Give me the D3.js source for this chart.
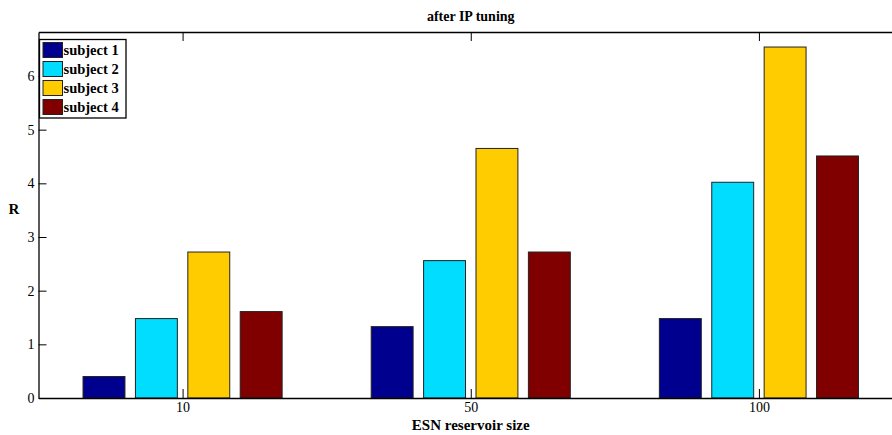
<!DOCTYPE html>
<html>
<head>
<meta charset="utf-8">
<script src="https://cdn.jsdelivr.net/npm/d3@7"></script>
<style>
  body { margin: 0; background: #fff; }
  svg { display: block; font-family: "Liberation Serif", "DejaVu Serif", serif; }
</style>
</head>
<body>
<div id="chart"></div>
<script>
// values
const sizes = ["10", "50", "100"]
const subjects = ["subject 1", "subject 2", "subject 3", "subject 4"]
const subject1 = [0.40, 1.33, 1.48]
const subject2 = [1.48, 2.56, 4.02]
const subject3 = [2.72, 4.65, 6.54]
const subject4 = [1.61, 2.72, 4.51]
const colors = ["#00008f", "#00ddff", "#ffcc00", "#800000"]
const yTicks = [0, 1, 2, 3, 4, 5, 6]

const series = [subject1, subject2, subject3, subject4]
const serif = "Liberation Serif, DejaVu Serif, serif"

let dimensions = {
    width: 892,
    height: 435,
    margin: { top: 32, right: -11, bottom: 37, left: 38.5 }
}
dimensions.boundedWidth = dimensions.width - dimensions.margin.left - dimensions.margin.right
dimensions.boundedHeight = dimensions.height - dimensions.margin.top - dimensions.margin.bottom

const svg = d3.select("#chart").append("svg")
    .attr("width", dimensions.width)
    .attr("height", dimensions.height)

const bounds = svg.append("g")
    .attr("transform", `translate(${dimensions.margin.left},${dimensions.margin.top})`)

// x in group-index units like matlab's bar(): groups at 1..3, limits 0.5..3.5
const xScale = d3.scaleLinear()
    .domain([0.5, sizes.length + 0.5])
    .range([0, dimensions.boundedWidth])
const yScale = d3.scaleLinear()
    .domain([0, 6.82])
    .range([dimensions.boundedHeight, 0])

const nSeries = series.length
const groupWidth = Math.min(0.8, nSeries / (nSeries + 1.5))
const step = groupWidth / nSeries
const barWidth = step * 0.8

// bars
series.forEach((values, s) => {
    bounds.selectAll(`.bar-${s}`)
        .data(values)
        .enter().append("rect")
        .attr("class", `bar-${s}`)
        .attr("x", (d, i) => xScale(i + 1 + (s - (nSeries - 1) / 2) * step - barWidth / 2))
        .attr("width", (d, i) => xScale(barWidth) - xScale(0))
        .attr("y", d => yScale(d))
        .attr("height", d => yScale(0) - yScale(d))
        .attr("fill", colors[s])
        .attr("stroke", "#222")
        .attr("stroke-width", 1)
})

// axes (matlab style: ticks inward, mirrored on top)
const xAxis = d3.axisBottom(xScale)
    .tickValues(sizes.map((d, i) => i + 1))
    .tickFormat((d, i) => sizes[i])
    .tickSizeInner(-9)
    .tickSizeOuter(0)
    .tickPadding(4)
const xAxisGroup = bounds.append("g")
    .attr("transform", `translate(0,${dimensions.boundedHeight})`)
    .call(xAxis)

const xTop = d3.axisTop(xScale)
    .tickValues(sizes.map((d, i) => i + 1))
    .tickFormat("")
    .tickSizeInner(-9)
    .tickSizeOuter(0)
bounds.append("g").call(xTop)

const yAxis = d3.axisLeft(yScale)
    .tickValues(yTicks)
    .tickFormat(d3.format("d"))
    .tickSizeInner(-8)
    .tickSizeOuter(0)
    .tickPadding(4)
const yAxisGroup = bounds.append("g").call(yAxis)

;[xAxisGroup, yAxisGroup].forEach(g => g
    .attr("font-family", serif)
    .attr("font-size", 14))
bounds.selectAll(".domain").attr("stroke", "#000").attr("stroke-width", 1.3)
bounds.selectAll(".tick line").attr("stroke", "#000")

// labels
svg.append("text")
    .attr("x", dimensions.margin.left + xScale(2))
    .attr("y", 21)
    .attr("text-anchor", "middle")
    .attr("font-weight", "bold")
    .attr("font-size", 14)
    .text("after IP tuning")

svg.append("text")
    .attr("x", dimensions.margin.left + xScale(2))
    .attr("y", 430)
    .attr("text-anchor", "middle")
    .attr("font-weight", "bold")
    .attr("font-size", 15)
    .text("ESN reservoir size")

svg.append("text")
    .attr("x", 14)
    .attr("y", 214)
    .attr("text-anchor", "middle")
    .attr("font-weight", "bold")
    .attr("font-size", 15)
    .text("R")

// legend
const legend = svg.append("g")
    .attr("transform", "translate(39.5,39.5)")
legend.append("rect")
    .attr("width", 86.5)
    .attr("height", 78.5)
    .attr("fill", "#fff")
    .attr("stroke", "#000")
    .attr("stroke-width", 1.3)
const entries = legend.selectAll(".entry")
    .data(subjects)
    .enter().append("g")
    .attr("class", "entry")
    .attr("transform", (d, i) => `translate(0,${3 + i * 19})`)
entries.append("rect")
    .attr("x", 3.5)
    .attr("y", 0)
    .attr("width", 19.5)
    .attr("height", 15)
    .attr("fill", (d, i) => colors[i])
    .attr("stroke", "#222")
entries.append("text")
    .attr("x", 24)
    .attr("y", 12.5)
    .attr("font-weight", "bold")
    .attr("font-size", 14.5)
    .text(d => d)
</script>
</body>
</html>
